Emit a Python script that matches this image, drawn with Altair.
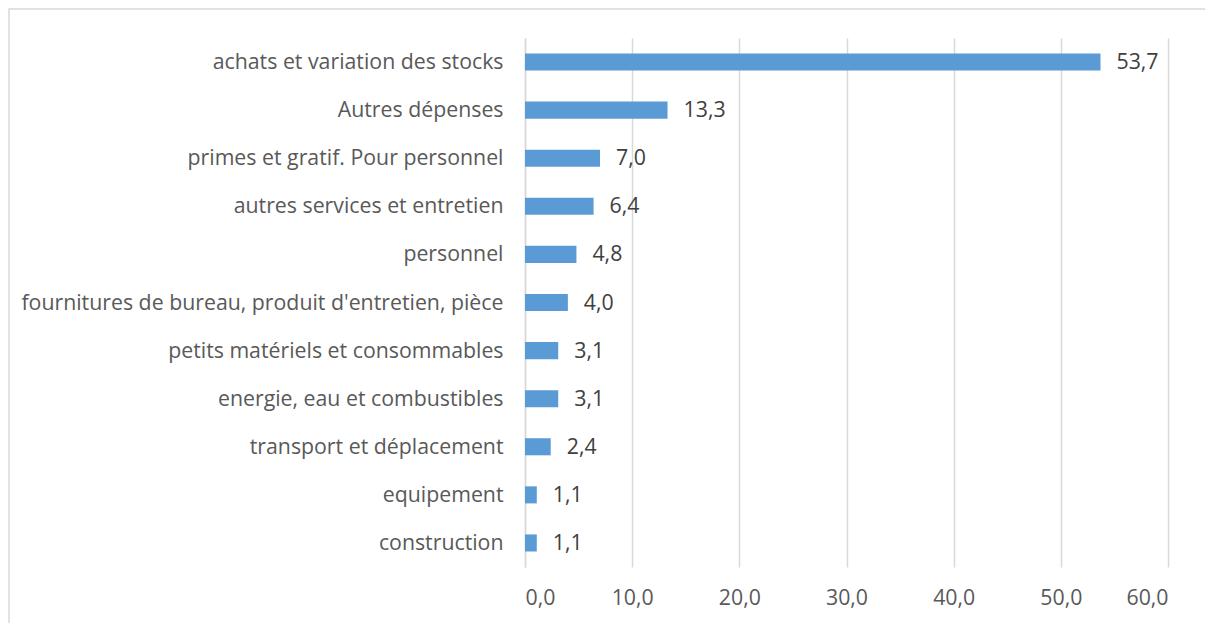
import altair as alt
import pandas as pd

categories = [
    "achats et variation des stocks",
    "Autres dépenses",
    "primes et gratif. Pour personnel",
    "autres services et entretien",
    "personnel",
    "fournitures de bureau, produit d'entretien, pièce",
    "petits matériels et consommables",
    "energie, eau et combustibles",
    "transport et déplacement",
    "equipement",
    "construction",
]
values = [53.7, 13.3, 7.0, 6.4, 4.8, 4.0, 3.1, 3.1, 2.4, 1.1, 1.1]
x_ticks = [0, 10, 20, 30, 40, 50, 60]

df = pd.DataFrame({"cat": categories, "val": values})

FONT = "Open Sans"
FS = 21.3

y_enc = alt.Y(
    "cat:N",
    sort=categories,
    title=None,
    scale=alt.Scale(paddingInner=0.645, paddingOuter=0.3225),
    axis=alt.Axis(
        ticks=False,
        domain=True,
        domainColor="#D9D9D9",
        domainWidth=1.5,
        labelFont=FONT,
        labelFontSize=FS,
        labelColor="#595959",
        labelPadding=22,
        labelLimit=600,
        labelOffset=1,
        grid=False,
    ),
)
x_enc = alt.X(
    "val:Q",
    title=None,
    scale=alt.Scale(domain=[0, 60], nice=False),
    axis=alt.Axis(
        values=x_ticks,
        labelExpr="replace(format(datum.value, '.1f'), '.', ',')",
        ticks=False,
        domain=False,
        grid=True,
        gridColor="#D9D9D9",
        gridWidth=1.5,
        labelFont=FONT,
        labelFontSize=FS,
        labelColor="#595959",
        labelPadding=20,
    ),
)

base = alt.Chart(df)

border = base.mark_rect(fill=None, stroke="#D9D9D9", strokeWidth=1.5).encode(
    x=alt.value(-516), x2=alt.value(900), y=alt.value(-29), y2=alt.value(900)
).transform_filter("datum.cat == 'construction'")

bars = base.mark_bar(color="#5B9BD5").encode(x=x_enc, y=y_enc)

labels = base.mark_text(
    align="left", baseline="middle", dx=16, dy=1, font=FONT, fontSize=FS, color="#404040"
).transform_calculate(
    lbl="replace(format(datum.val, '.1f'), '.', ',')"
).encode(x="val:Q", y=alt.Y("cat:N", sort=categories), text="lbl:N")

chart = alt.layer(border, bars, labels).properties(
    width=643,
    height=529,
    padding={"left": 517, "top": 30, "right": 37, "bottom": 56},
    autosize=alt.AutoSizeParams(type="none"),
).configure_view(stroke=None)

chart.save("out.html", embed_options={"renderer": "svg", "actions": False})
